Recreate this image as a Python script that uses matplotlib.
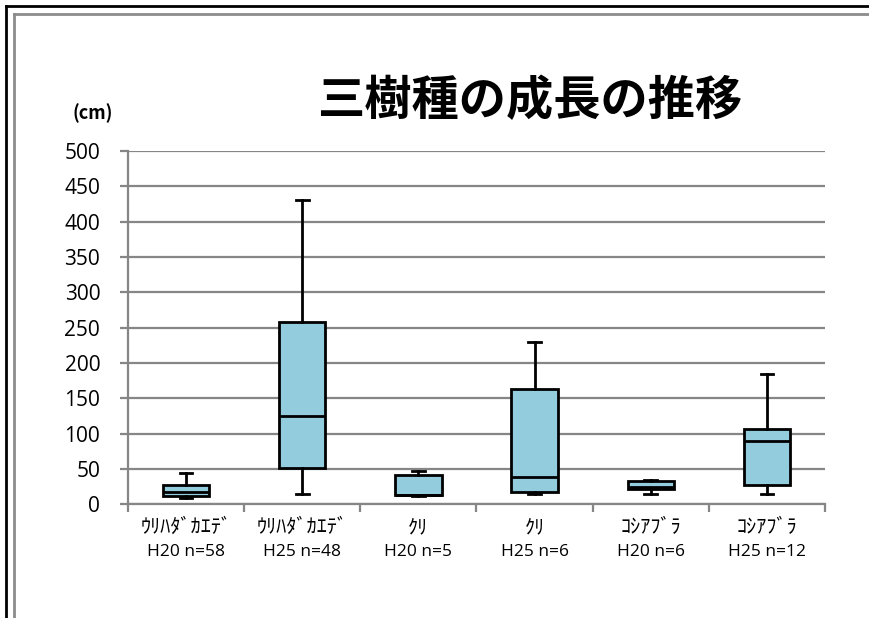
import numpy as np
import matplotlib
matplotlib.use('Agg')
import matplotlib.pyplot as plt
from matplotlib.lines import Line2D

plt.rcParams['font.family'] = ['Noto Sans CJK JP', 'DejaVu Sans']

# 樹種・年度ごとの箱ひげ図の統計値 (cm)
species = ['ｳﾘﾊﾀﾞｶｴﾃﾞ', 'ｳﾘﾊﾀﾞｶｴﾃﾞ', 'ｸﾘ', 'ｸﾘ', 'ｺｼｱﾌﾞﾗ', 'ｺｼｱﾌﾞﾗ']
groups = ['H20 n=58', 'H25 n=48', 'H20 n=5', 'H25 n=6', 'H20 n=6', 'H25 n=12']
whislo = [9, 15, 12, 15, 14, 15]
q1 = [12, 52, 13, 17, 21, 28]
med = [17, 125, 13, 39, 24, 90]
q3 = [27, 258, 42, 163, 33, 107]
whishi = [45, 430, 47, 230, 34, 185]

stats = []
for i in range(len(species)):
    stats.append(dict(whislo=whislo[i], q1=q1[i], med=med[i], q3=q3[i],
                      whishi=whishi[i], label=species[i]))

fig = plt.figure(figsize=(8.7, 6.18), dpi=100)
ax = fig.add_axes([128 / 870, 113.7 / 618, 697 / 870, 353.3 / 618])

grid_c = '#868686'
pos = np.arange(len(stats))
ax.bxp(stats, positions=pos, widths=0.4, patch_artist=True, showfliers=False,
       boxprops=dict(facecolor='#93CDDD', edgecolor='black', linewidth=2),
       medianprops=dict(color='black', linewidth=2),
       whiskerprops=dict(color='black', linewidth=2),
       capprops=dict(color='black', linewidth=2),
       capwidths=0.11, zorder=3)

ax.set_xlim(-0.5, len(stats) - 0.5)
ax.set_ylim(0, 500)
ax.set_yticks(np.arange(0, 501, 50))
ax.yaxis.grid(True, color=grid_c, linewidth=1.6, zorder=0)
ax.set_axisbelow(True)

# 区切りの目盛りはカテゴリの境界に
ax.set_xticks(pos)
ax.set_xticklabels(species, fontsize=14.5)
ax.set_xticks(np.arange(-0.5, len(stats), 1), minor=True)
ax.tick_params(axis='x', which='major', length=0, pad=9)
ax.tick_params(axis='x', which='minor', length=6, width=1.6, color=grid_c)
ax.tick_params(axis='y', length=6, width=1.6, color=grid_c, pad=14)
for t in ax.get_yticklabels():
    t.set_family('Open Sans')
    t.set_fontsize(15)

# 年度とサンプル数は2行目に
for p, g in zip(pos, groups):
    ax.text(p, -0.136, g, transform=ax.get_xaxis_transform(), ha='center',
            va='center', fontsize=12.5, family='Open Sans')

for s in ['top', 'right']:
    ax.spines[s].set_visible(False)
for s in ['left', 'bottom']:
    ax.spines[s].set_color(grid_c)
    ax.spines[s].set_linewidth(1.6)

fig.text(530 / 870, 1 - 101 / 618, '三樹種の成長の推移', fontsize=34,
         fontweight='bold', ha='center', va='center')
fig.text(93 / 870, 1 - 113 / 618, '(cm)', fontsize=13, fontweight='bold',
         ha='center', va='center')

# 枠線
W, H = 870, 618
fig.add_artist(Line2D([6 / W, 1], [1 - 6 / H, 1 - 6 / H], color='black', lw=2))
fig.add_artist(Line2D([6 / W, 6 / W], [0, 1 - 6 / H], color='black', lw=2))
fig.add_artist(Line2D([14 / W, 1], [1 - 14 / H, 1 - 14 / H], color='#8c8c8c', lw=2))
fig.add_artist(Line2D([14 / W, 14 / W], [0, 1 - 14 / H], color='#8c8c8c', lw=2))

fig.savefig('out.png', dpi=100)
